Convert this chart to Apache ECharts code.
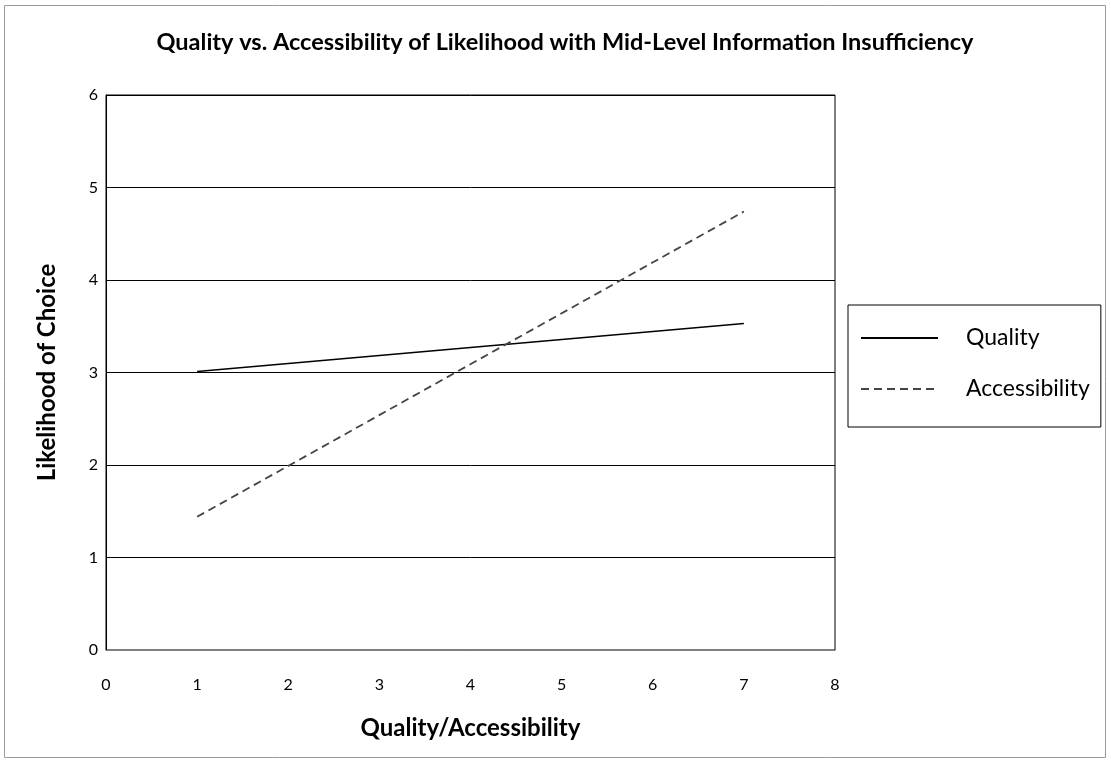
<!DOCTYPE html>
<html>
<head>
<meta charset="utf-8">
<script src="https://cdn.jsdelivr.net/npm/echarts@6/dist/echarts.min.js"></script>
<style>
  html, body { margin: 0; padding: 0; background: #fff; }
  #chart { width: 1111px; height: 763px; }
</style>
</head>
<body>
<div id="chart"></div>
<script>
// data
var xValues = [1, 7];
var qualityValues = [3.01, 3.53];
var accessibilityValues = [1.44, 4.74];
var seriesNames = ["Quality", "Accessibility"];

function pairs(ys) {
  return xValues.map(function (x, i) { return [x, ys[i]]; });
}

var font = "Lato, 'Open Sans', sans-serif";
var chart = echarts.init(document.getElementById("chart"), null, { renderer: "canvas" });

var option = {
  backgroundColor: "#fff",
  animation: false,
  title: {
    text: "Quality vs. Accessibility of Likelihood with Mid-Level Information Insufficiency",
    left: 560,
    textAlign: "center",
    top: 25,
    textStyle: { fontFamily: font, fontSize: 23.5, fontWeight: "bold", color: "#000" }
  },
  graphic: [{
    type: "rect",
    shape: { x: 4.5, y: 5.5, width: 1101, height: 752 },
    style: { fill: "none", stroke: "#9a9a9a", lineWidth: 1 },
    silent: true
  }],
  grid: {
    left: 106, right: 276, top: 95, bottom: 113,
    show: true, borderColor: "#000", borderWidth: 1
  },
  legend: {
    orient: "vertical",
    left: 848,
    top: 305,
    padding: [20, 11, 25, 12],
    itemWidth: 77,
    itemHeight: 14,
    itemGap: 25,
    borderColor: "#000",
    borderWidth: 1,
    itemStyle: { opacity: 0 },
    data: seriesNames,
    textStyle: { fontFamily: font, fontSize: 23, lineHeight: 26, color: "#000", padding: [0, 0, 0, 23] }
  },
  xAxis: {
    type: "value",
    min: 0, max: 8, interval: 1,
    name: "Quality/Accessibility",
    nameLocation: "middle",
    nameGap: 66,
    nameTextStyle: { fontFamily: font, fontSize: 24, fontWeight: "bold", color: "#000" },
    axisLine: { show: true, onZero: false, lineStyle: { color: "#808080", width: 1 } },
    axisTick: { show: false },
    splitLine: { show: false },
    axisLabel: { fontFamily: font, fontSize: 16, color: "#000", margin: 27 }
  },
  yAxis: {
    type: "value",
    min: 0, max: 6, interval: 1,
    name: "Likelihood of Choice",
    nameLocation: "middle",
    nameGap: 47,
    nameTextStyle: { fontFamily: font, fontSize: 24, fontWeight: "bold", color: "#000" },
    axisLine: { show: true, lineStyle: { color: "#000", width: 1 } },
    axisTick: { show: false },
    splitLine: { show: true, lineStyle: { color: "#000", width: 1 } },
    axisLabel: { fontFamily: font, fontSize: 16, color: "#000", margin: 8 }
  },
  series: [
    {
      name: seriesNames[0],
      type: "line",
      data: pairs(qualityValues),
      symbol: "none",
      lineStyle: { color: "#000", width: 1.5 },
      itemStyle: { color: "#000" }
    },
    {
      name: seriesNames[1],
      type: "line",
      data: pairs(accessibilityValues),
      symbol: "none",
      lineStyle: { color: "#444", width: 1.8, type: [8, 5] },
      itemStyle: { color: "#444" }
    }
  ]
};

chart.setOption(option);
</script>
</body>
</html>
